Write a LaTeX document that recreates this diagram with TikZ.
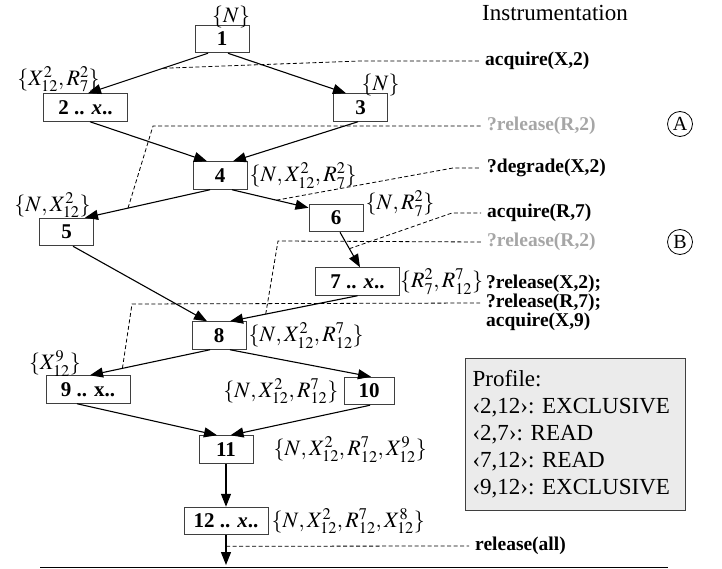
\documentclass[tikz,border=0pt]{standalone}
\usepackage{mathptmx}
\usepackage[no-math]{fontspec}
\setmainfont{Liberation Serif}
\usepackage{tikz}
\usetikzlibrary{arrows.meta,positioning}
\definecolor{boxline}{HTML}{3F3F3F}
\definecolor{instrgray}{HTML}{A6A6A6}
\definecolor{profilefill}{HTML}{EBEBEB}
\tikzset{
    cfg-box/.style = {draw=boxline, fill=white, line width=1pt, rectangle, minimum width=54pt, minimum height=27.5pt, inner sep=0pt, font=\fontsize{21}{24}\selectfont\bfseries},
    cfg-box-wide/.style = {cfg-box, minimum width=84pt},
    lock-set/.style = {inner sep=0pt, font=\fontsize{22}{26}\selectfont},
    flow-edge/.style = {-{Triangle[length=13pt,width=10pt]}, line width=1.1pt},
    instr-line/.style = {dash pattern=on 4pt off 2.5pt, line width=0.8pt},
    instr-text/.style = {anchor=west, inner xsep=6pt, inner ysep=0pt, align=left, font=\fontsize{19.5}{19}\selectfont\bfseries},
    profile-box/.style = {draw=boxline, fill=profilefill, line width=1.1pt, text width=206pt, inner xsep=7pt, inner ysep=12pt, align=left, font=\fontsize{23}{27}\selectfont\frenchspacing},
    mark-circle/.style = {draw, circle, line width=0.8pt, minimum size=25pt, inner sep=0pt, font=\fontsize{20}{24}\selectfont},
}

\begin{document}
\begin{tikzpicture}[x=1pt, y=-1pt]
\useasboundingbox (0,0) rectangle (722,569);

% control flow blocks
\node[cfg-box] (n1) at (222,39) {1};
\node[cfg-box-wide] (n2) at (85.5,107.5) {2 .. \textit{x}..};
\node[cfg-box] (n3) at (360.5,107.5) {3};
\node[cfg-box] (n4) at (220,175.5) {4};
\node[cfg-box] (n5) at (66.5,232) {5};
\node[cfg-box] (n6) at (336,218) {6};
\node[cfg-box-wide] (n7) at (357.5,281.5) {7 .. \textit{x}..};
\node[cfg-box] (n8) at (219,335.5) {8};
\node[cfg-box-wide] (n9) at (88,389.5) {9 .. x..};
\node[cfg-box, minimum width=50pt] (n10) at (369,391) {10};
\node[cfg-box] (n11) at (226,449.5) {11};
\node[cfg-box-wide] (n12) at (226,521) {12 .. \textit{x}..};
\coordinate (exit) at (226,565);

% lock sets
\node[lock-set, above=-3pt of n1, xshift=9pt] {$\{N\}$};
\node[lock-set, above=1pt of n2, xshift=-27pt] {$\{X^2_{12}, R^2_7\}$};
\node[lock-set, above=-3pt of n3, xshift=20pt] {$\{N\}$};
\node[lock-set, right=2pt of n4] {$\{N, X^2_{12}, R^2_7\}$};
\node[lock-set, above=0pt of n5, xshift=-14pt] {$\{N, X^2_{12}\}$};
\node[lock-set, right=2pt of n6.north east] {$\{N, R^2_7\}$};
\node[lock-set, right=0pt of n7] {$\{R^2_7, R^7_{12}\}$};
\node[lock-set, right=2pt of n8] {$\{N, X^2_{12}, R^7_{12}\}$};
\node[lock-set, above=-1pt of n9, xshift=-33pt] {$\{X^9_{12}\}$};
\node[lock-set, left=5pt of n10] {$\{N, X^2_{12}, R^7_{12}\}$};
\node[lock-set, right=20pt of n11] {$\{N, X^2_{12}, R^7_{12}, X^9_{12}\}$};
\node[lock-set, right=3pt of n12] {$\{N, X^2_{12}, R^7_{12}, X^8_{12}\}$};

% edges
\draw[flow-edge] ([xshift=-14pt]n1.south) -- coordinate[pos=.375] (p12) ([xshift=2.5pt]n2.north);
\draw[flow-edge] ([xshift=6pt]n1.south) -- ([xshift=-14.5pt]n3.north);
\draw[flow-edge] ([xshift=4.5pt]n2.south) -- ([xshift=-13pt]n4.north);
\draw[flow-edge] ([xshift=-2.5pt]n3.south) -- ([xshift=13pt]n4.north);
\draw[flow-edge] ([xshift=-10pt]n4.south) -- coordinate[pos=.656] (p45) ([xshift=18.5pt]n5.north);
\draw[flow-edge] ([xshift=12pt]n4.south) -- coordinate[pos=.58] (p46) ([yshift=-4pt]n6.north west);
\draw[flow-edge] ([xshift=4pt]n6.south) -- coordinate[pos=.47] (p67) ([xshift=2.5pt]n7.north);
\draw[flow-edge] ([xshift=6.5pt]n5.south) -- ([xshift=-12pt]n8.north);
\draw[flow-edge] (n7.south) -- coordinate[pos=.72] (p78) ([xshift=11pt]n8.north);
\draw[flow-edge] ([xshift=-9pt]n8.south) -- coordinate[pos=.73] (p89) ([xshift=2pt]n9.north);
\draw[flow-edge] ([xshift=11pt]n8.south) -- ([xshift=2pt]n10.north);
\draw[flow-edge] ([xshift=-11pt]n9.south) -- ([xshift=-9pt]n11.north);
\draw[flow-edge] ([xshift=1pt]n10.south) -- ([xshift=4.5pt]n11.north);
\draw[flow-edge] (n11.south) -- (n12.north);
\draw[flow-edge] (n12.south) -- coordinate[pos=.37] (pout) (exit);

% instrumentation
\node[font=\fontsize{23}{27}\selectfont] (instr-head) at (555,13) {Instrumentation};
\node[instr-text] (i-acq-x2) at (479,61) {acquire(X,2)};
\node[instr-text, text=instrgray] (i-rel-r2a) at (481,126) {?release(R,2)};
\node[instr-text] (i-deg-x2) at (481,168) {?degrade(X,2)};
\node[instr-text] (i-acq-r7) at (481,213) {acquire(R,7)};
\node[instr-text, text=instrgray] (i-rel-r2b) at (481,242) {?release(R,2)};
\node[instr-text] (i-multi) at (480,303) {?release(X,2);\\?release(R,7);\\acquire(X,9)};
\node[instr-text] (i-rel-all) at (469,546) {release(all)};

\draw[instr-line] (p12) -- (360,61) -- (i-acq-x2.west);
\draw[instr-line] (p45) -- (153,126) -- (i-rel-r2a.west);
\draw[instr-line] (p46) -- (453,168) -- (i-deg-x2.west);
\draw[instr-line] (p67) -- (452,213) -- (i-acq-r7.west);
\draw[instr-line] (p78) -- (278,241) -- (i-rel-r2b.west);
\draw[instr-line] (p89) -- (132,304) -- (i-multi.west);
\draw[instr-line] (pout) -- (i-rel-all.west);

\node[mark-circle] (mark-a) at (680,124) {A};
\node[mark-circle] (mark-b) at (680,242) {B};

\node[profile-box, anchor=north west] (profile) at (465,358) {Profile:\\‹2,12›: EXCLUSIVE\\‹2,7›: READ\\‹7,12›: READ\\‹9,12›: EXCLUSIVE};

\draw[line width=1.3pt] (40,567.5) -- (668,567.5);
\end{tikzpicture}
\end{document}
